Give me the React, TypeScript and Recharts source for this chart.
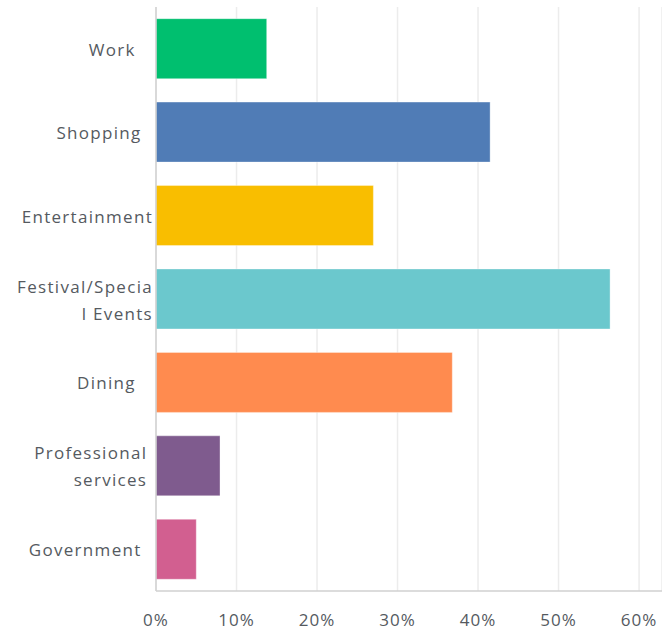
import React from 'react';
import { BarChart, Bar, XAxis, YAxis, CartesianGrid, Cell } from 'recharts';

// category labels, split where the original wraps them
const categories: string[][] = [
  ['Work   '],
  ['Shopping  '],
  ['Entertainment'],
  ['Festival/Specia', 'l Events'],
  ['Dining   '],
  ['Professional ', 'services '],
  ['Government  '],
];
const shares = [13.75, 41.5, 27.0, 56.4, 36.8, 7.95, 5.0];
const barColors = ['#00bf6f', '#507cb6', '#f9be00', '#6bc8cd', '#ff8b4f', '#7f5b8e', '#d25f90'];
const xTicks = [0, 10, 20, 30, 40, 50, 60];

const data = categories.map((lines, i) => ({ key: lines.join(''), lines, value: shares[i] }));

const FONT = '"Open Sans", sans-serif';
const TEXT = '#555a5f';

const CategoryTick = (props: any) => {
  const { x, y, payload } = props;
  const lines: string[] = data[payload.index]?.lines ?? [payload.value];
  const n = lines.length;
  return (
    <g>
      {lines.map((ln, i) => (
        <text
          key={i}
          x={x}
          y={y + 7 + (i - (n - 1) / 2) * 27}
          textAnchor="end"
          fill={TEXT}
          fontSize={17}
          fontFamily={FONT}
          letterSpacing={1.3}
          style={{ whiteSpace: 'pre' }}
        >
          {ln}
        </text>
      ))}
    </g>
  );
};

export default function App() {
  return (
    <div style={{ position: 'absolute', left: 0, top: 0, background: '#fff' }}>
      <BarChart
        width={662}
        height={630}
        data={data}
        layout="vertical"
        margin={{ top: 7, right: 0, bottom: 0, left: 0 }}
        barCategoryGap="14%"
      >
        <CartesianGrid horizontal={false} stroke="#ececec" strokeWidth={1.5} />
        <XAxis
          type="number"
          domain={[0, 62.85]}
          ticks={xTicks}
          allowDataOverflow
          tickFormatter={(v) => `${v}%`}
          tickLine={false}
          axisLine={{ stroke: '#d0d0d0', strokeWidth: 1.5 }}
          tickMargin={17}
          height={39}
          tick={{ fill: TEXT, fontSize: 17, fontFamily: FONT, letterSpacing: 1 }}
        />
        <YAxis
          type="category"
          dataKey="key"
          width={156}
          tickLine={false}
          tickSize={0}
          tickMargin={3}
          axisLine={{ stroke: '#d0d0d0', strokeWidth: 1.5 }}
          tick={<CategoryTick />}
          interval={0}
        />
        <Bar dataKey="value" isAnimationActive={false}>
          {data.map((d, i) => (
            <Cell key={d.key} fill={barColors[i]} stroke="#ffffff" strokeOpacity={0.35} />
          ))}
        </Bar>
      </BarChart>
    </div>
  );
}
